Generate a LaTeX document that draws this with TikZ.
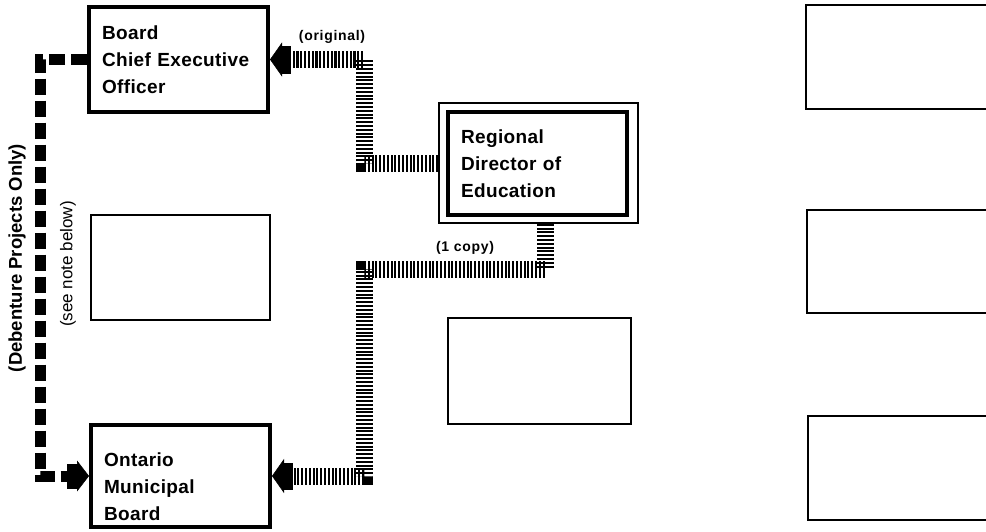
\documentclass[tikz,border=0pt]{standalone}
\usepackage{fontspec}
\setmainfont{Liberation Sans}
\usetikzlibrary{arrows.meta}
\begin{document}
\begin{tikzpicture}[x=1pt,y=-1pt,
  boxfont/.style={font=\fontsize{19}{27}\selectfont\bfseries\addfontfeatures{LetterSpace=2}},
  tbox/.style={draw, line width=4pt, minimum width=179pt, minimum height=105pt,
    text width=153pt, inner xsep=13pt, inner ysep=0pt, align=left, boxfont},
  thinbox/.style={draw, line width=2.5pt, inner sep=0pt},
  frame/.style={draw, line width=1.5pt, inner sep=0pt, minimum width=199pt, minimum height=120pt},
  smalllab/.style={font=\fontsize{14}{16}\selectfont\bfseries\addfontfeatures{LetterSpace=5}, inner sep=0pt},
  blockarrow/.style={-{Rectangle[length=8pt,width=27pt,line width=0.5pt,sep=0pt]Triangle[length=12pt,width=34pt,line width=0.5pt,sep=0pt]}},
  hatch/.style={line width=17pt, dash pattern=on 2.1pt off 1.7pt, blockarrow},
  debline/.style={line width=11pt, dash pattern=on 16pt off 6pt,
    -{Rectangle[length=10pt,width=24pt,line width=0.5pt,sep=0pt]Triangle[length=12pt,width=31pt,line width=0.5pt,sep=0pt]}}
]
\useasboundingbox (0,0) rectangle (986,531);
\fill[white] (0,0) rectangle (986,531);
\clip (0,0) rectangle (986,531);

% left column
\node[tbox] (ceo) at (178.5,59.5) {Board\\Chief Executive\\Officer};
\node[thinbox, minimum width=179pt, minimum height=105pt] (lmid) at (180.5,267.5) {};
\node[tbox, minimum height=102pt] (omb) at (180.5,476) {\rule{0pt}{35pt}Ontario\\Municipal\\Board};

% centre column
\node[frame] (rdf) at (538.5,163) {};
\node[tbox, minimum height=103pt] (rd) at (537.5,163.5) {Regional\\Director of\\Education};
\node[thinbox, minimum width=183pt, minimum height=106pt] (cmid) at (539.5,371) {};

% right column
\node[thinbox, minimum width=194pt, minimum height=104pt] (r1) at (903,57) {};
\node[thinbox, minimum width=194pt, minimum height=103pt] (r2) at (904,261.5) {};
\node[thinbox, minimum width=194pt, minimum height=104pt] (r3) at (905,468) {};

% routing coordinates
\coordinate (hx) at (364,0);
\coordinate (hy) at (0,269);
\coordinate (dx) at (40,0);

% hatched connectors
\draw[hatch] (rdf.west) -| (hx |- ceo.east) -- (ceo.east);
\draw[hatch] ([xshift=6.5pt]rdf.south) |- (hx |- hy) |- (omb.east);

% dashed connector
\draw[debline] (ceo.west) -| (dx |- omb.west) -- (omb.west);

% labels
\node[smalllab] (orig) at (332,37) {(original)};
\node[smalllab] (copy) at (465,248) {(1 copy)};
\node[rotate=90, inner sep=0pt, font=\fontsize{18.5}{20}\selectfont\bfseries] (deb) at (17,258) {(Debenture Projects Only)};
\node[rotate=90, inner sep=0pt, font=\fontsize{17}{19}\selectfont] (note) at (68,264) {(see note below)};
\end{tikzpicture}
\end{document}
